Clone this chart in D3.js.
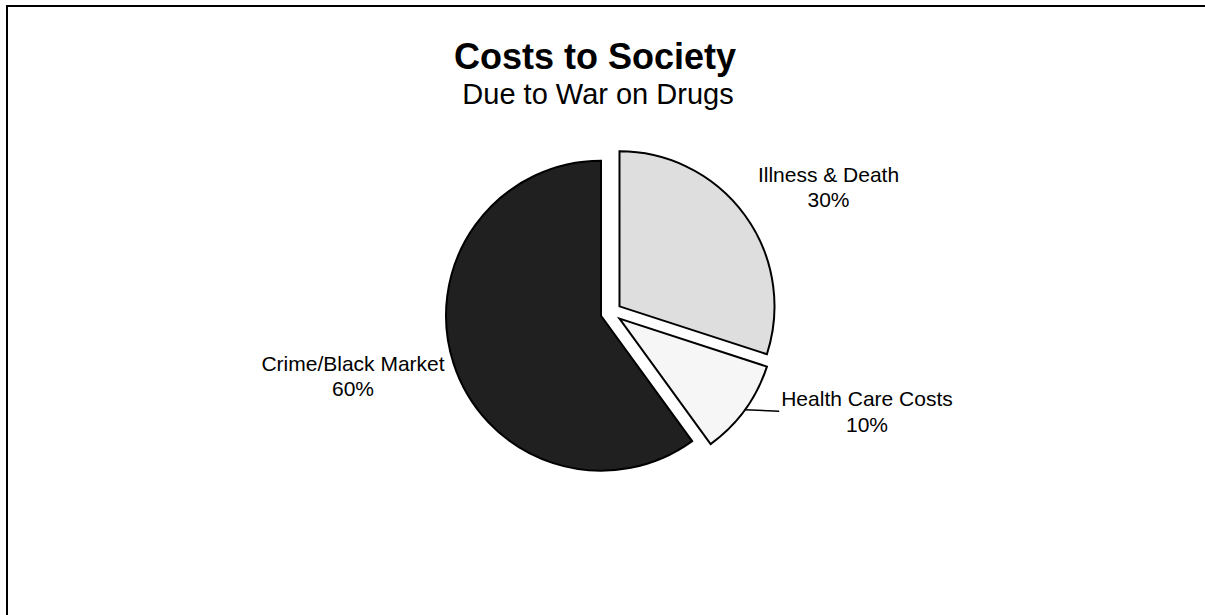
<!DOCTYPE html>
<html>
<head>
<meta charset="utf-8">
<script src="https://cdn.jsdelivr.net/npm/d3@7"></script>
<style>
  html, body { margin: 0; padding: 0; background: #fff; overflow: hidden; }
  svg { display: block; }
  text { font-family: Arial, "Liberation Sans", sans-serif; fill: #000; }
</style>
</head>
<body>
<svg id="chart" width="1205" height="615"></svg>
<script>
// ---- data ----
const categories = ["Illness & Death", "Health Care Costs", "Crime/Black Market"];
const values = [30, 10, 60];
const percentLabels = ["30%", "10%", "60%"];
const sliceColors = ["#dedede", "#f6f6f6", "#202020"];
const titleText = "Costs to Society";
const subtitleText = "Due to War on Drugs";

// ---- layout ----
const W = 1205, H = 615;
const cx = 611, cy = 312.5, R = 155, explode = 10.5;
// label block centers relative to pie center
const labelOffsets = [[217.5, -125.5], [256, 98.75], [-258, 63.5]];
const lineGap = 25.5;

const svg = d3.select("#chart");

// outer frame (only top and left edges visible)
svg.append("path")
  .attr("d", `M7,${H}L7,6L${W},6`)
  .attr("fill", "none").attr("stroke", "#000").attr("stroke-width", 2);

svg.append("text")
  .attr("x", 595).attr("y", 69)
  .attr("text-anchor", "middle")
  .style("font-size", "36px").style("font-weight", "bold")
  .text(titleText);

svg.append("text")
  .attr("x", 598).attr("y", 104)
  .attr("text-anchor", "middle")
  .style("font-size", "29px")
  .text(subtitleText);

const pie = d3.pie().sort(null).value(d => d);
const arcs = pie(values);
const arc = d3.arc().innerRadius(0).outerRadius(R);

const g = svg.append("g").attr("transform", `translate(${cx},${cy})`);

arcs.forEach((a, i) => {
  const mid = (a.startAngle + a.endAngle) / 2;
  const dx = Math.sin(mid) * explode, dy = -Math.cos(mid) * explode;
  g.append("path")
    .attr("d", arc(a))
    .attr("transform", `translate(${dx},${dy})`)
    .attr("fill", sliceColors[i])
    .attr("stroke", "#000")
    .attr("stroke-width", 2)
    .attr("stroke-linejoin", "miter");
});

// labels
const labelNodes = [];
arcs.forEach((a, i) => {
  const [ox, oy] = labelOffsets[i];
  const t = g.append("text")
    .attr("text-anchor", "middle")
    .style("font-size", "21px");
  t.append("tspan").attr("x", ox).attr("y", oy - lineGap / 2 + 7.5).text(categories[i]);
  t.append("tspan").attr("x", ox).attr("y", oy + lineGap / 2 + 7.5).text(percentLabels[i]);
  labelNodes.push(t.node());
});

// leader line for Health Care Costs
{
  const i = 1, a = arcs[i];
  const mid = (a.startAngle + a.endAngle) / 2;
  const dx = Math.sin(mid) * explode, dy = -Math.cos(mid) * explode;
  const sx = dx + Math.sin(mid) * R, sy = dy - Math.cos(mid) * R;
  const bb = labelNodes[i].getBBox();
  const ex = bb.x - 2, ey = labelOffsets[i][1];
  g.append("path")
    .attr("d", `M${sx},${sy}L${ex},${ey}`)
    .attr("fill", "none").attr("stroke", "#000").attr("stroke-width", 1.5);
}
</script>
</body>
</html>
